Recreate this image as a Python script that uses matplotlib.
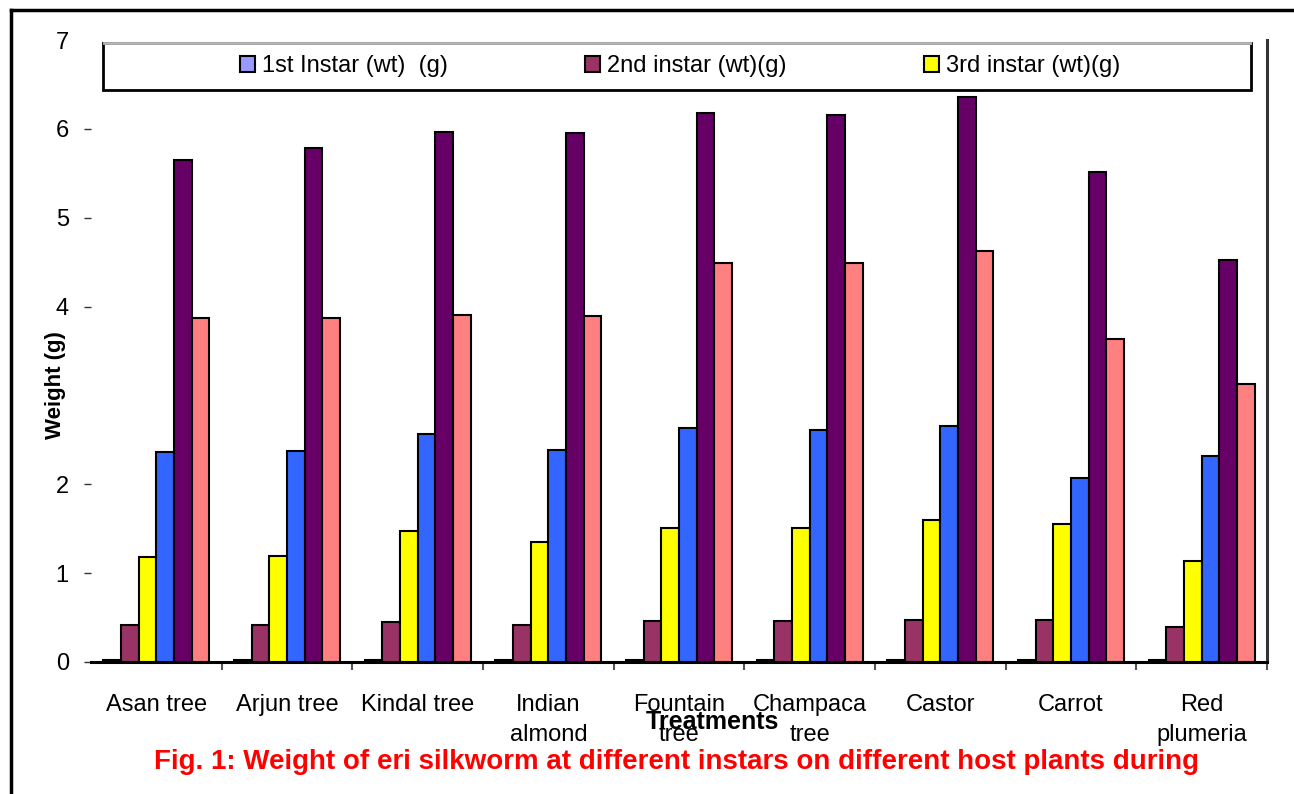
import numpy as np
import matplotlib
matplotlib.use("Agg")
import matplotlib.pyplot as plt
from matplotlib.lines import Line2D
from matplotlib.patches import Rectangle

plt.rcParams['font.family'] = ['Liberation Sans', 'DejaVu Sans']

plants = ["Asan tree", "Arjun tree", "Kindal tree", "Indian\nalmond", "Fountain\ntree",
          "Champaca\ntree", "Castor", "Carrot", "Red\nplumeria"]

# weights (g) per host plant
first_instar = [0.02, 0.02, 0.02, 0.02, 0.02, 0.02, 0.02, 0.02, 0.02]
second_instar = [0.42, 0.42, 0.45, 0.42, 0.46, 0.46, 0.47, 0.47, 0.39]
third_instar = [1.18, 1.19, 1.47, 1.35, 1.51, 1.51, 1.60, 1.55, 1.14]
fourth_instar = [2.36, 2.37, 2.57, 2.39, 2.63, 2.61, 2.66, 2.07, 2.32]
fifth_instar = [5.65, 5.78, 5.97, 5.95, 6.18, 6.16, 6.36, 5.52, 4.52]
mature_larva = [3.87, 3.87, 3.905, 3.89, 4.49, 4.49, 4.63, 3.64, 3.13]

series = [first_instar, second_instar, third_instar, fourth_instar, fifth_instar, mature_larva]
labels = ["1st Instar (wt)  (g)", "2nd instar (wt)(g)", "3rd instar (wt)(g)", None, None, None]
colors = ["#9999FF", "#993366", "#FFFF00", "#3366FF", "#660066", "#FF8080"]

W, H = 1294, 794
fig = plt.figure(figsize=(W / 100, H / 100), dpi=100)
ax = fig.add_axes([91 / W, 1 - 662 / H, (1267 - 91) / W, (662 - 40) / H])

x = np.arange(len(plants))
bw = 0.135
handles = []
for k, (vals, col) in enumerate(zip(series, colors)):
    b = ax.bar(x + (k - 2.5) * bw, vals, bw, color=col, edgecolor="black", linewidth=1.5, zorder=3)
    handles.append(b)

ax.set_xlim(-0.5, len(plants) - 0.5)
ax.set_ylim(0, 7)
ax.set_yticks([0, 1, 2, 4, 5, 6, 7])
ax.tick_params(axis="y", length=5, width=1, color="#333333", pad=11, labelsize=17)
ax.yaxis.get_major_ticks()[-1].tick1line.set_visible(False)

ax.set_xticks(x)
ax.set_xticklabels(plants, fontsize=17, linespacing=1.45)
ax.set_xticks(np.arange(0.5, len(plants), 1.0), minor=True)
ax.tick_params(axis="x", which="major", length=0, pad=23)
ax.tick_params(axis="x", which="minor", length=6, width=1.5, color="#555555")

ax.spines["left"].set_visible(False)
ax.spines["top"].set_visible(False)
ax.spines["bottom"].set_linewidth(2.2)
ax.spines["right"].set_color("#333333")
ax.spines["right"].set_linewidth(2.2)

fig.text(56 / W, 1 - 385 / H, "Weight (g)", rotation=90, ha="center", va="center",
         fontsize=16, fontweight="bold")
fig.text(712 / W, 1 - 722 / H, "Treatments", ha="center", va="center",
         fontsize=18, fontweight="bold")
fig.text(677 / W, 1 - 762 / H,
         "Fig. 1: Weight of eri silkworm at different instars on different host plants during",
         ha="center", va="center", fontsize=20, fontweight="bold", color="#FF0000")

# legend box
fig.add_artist(Rectangle((103 / W, 1 - 90 / H), (1251 - 103) / W, 47 / H,
                         transform=fig.transFigure, facecolor="white",
                         edgecolor="black", linewidth=2, zorder=5))
fig.add_artist(Line2D([104 / W, 1250 / W], [1 - 43 / H, 1 - 43 / H],
                      transform=fig.transFigure, color="#b8b8b8", linewidth=2, zorder=6))
leg = fig.legend(handles[:3], labels[:3], loc="center", ncol=3,
                 bbox_to_anchor=(680 / W, 1 - 66 / H), bbox_transform=fig.transFigure,
                 frameon=False, fontsize=17, handlelength=0.64, handleheight=0.64,
                 handletextpad=0.3, columnspacing=5.8)
leg.set_zorder(7)

# outer frame
fig.add_artist(Line2D([11 / W, 11 / W], [0, 1 - 10 / H], transform=fig.transFigure,
                      color="black", linewidth=2.5))
fig.add_artist(Line2D([11 / W, 1], [1 - 10 / H, 1 - 10 / H], transform=fig.transFigure,
                      color="black", linewidth=2.5))

fig.savefig("out.png", dpi=100)
